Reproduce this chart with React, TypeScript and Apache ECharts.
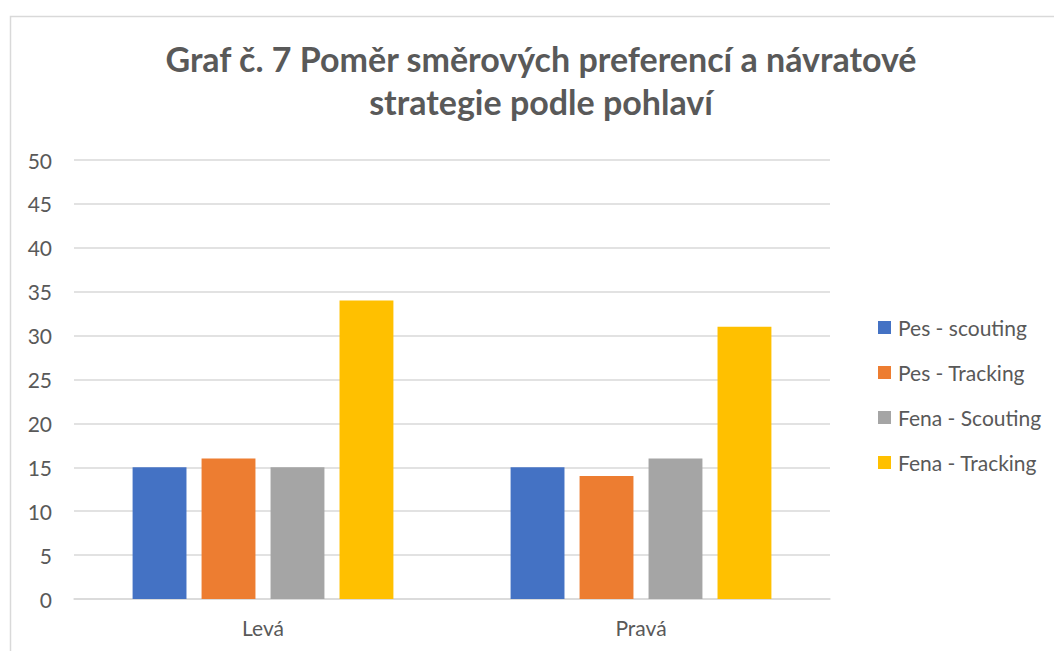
import React, { useEffect, useRef } from "react";
import * as echarts from "echarts";

const categories = ["Levá", "Pravá"];
const seriesNames = ["Pes - scouting", "Pes - Tracking", "Fena - Scouting", "Fena - Tracking"];
const pesScouting = [15, 15];
const pesTracking = [16, 14];
const fenaScouting = [15, 16];
const fenaTracking = [34, 31];
const colors = ["#4472C4", "#ED7D31", "#A5A5A5", "#FFC000"];
const titleText = "Graf č. 7 Poměr směrových preferencí a návratové\nstrategie podle pohlaví";

export default function App() {
  const ref = useRef<HTMLDivElement>(null);
  useEffect(() => {
    const chart = echarts.init(ref.current!, null, { renderer: "svg" });
    const values = [pesScouting, pesTracking, fenaScouting, fenaTracking];
    chart.setOption({
      animation: false,
      backgroundColor: "#ffffff",
      textStyle: { fontFamily: "Lato" },
      title: {
        text: titleText,
        left: 536,
        textAlign: "center",
        top: 32,
        textStyle: {
          fontFamily: "Lato",
          fontWeight: "bold",
          fontSize: 34,
          color: "#595959",
          lineHeight: 43,
        },
      },
      graphic: [
        {
          type: "rect",
          shape: { x: 10.5, y: 16.5, width: 1100, height: 700 },
          style: { fill: "none", stroke: "#d9d9d9", lineWidth: 1.5 },
          silent: true,
        },
      ],
      legend: {
        orient: "vertical",
        left: 873,
        top: 312,
        itemWidth: 13,
        itemHeight: 13,
        itemGap: 24,
        icon: "rect",
        textStyle: { fontFamily: "Lato", fontSize: 21, color: "#595959", padding: [0, 0, 0, 2] },
        data: seriesNames,
      },
      grid: { left: 74, right: 1054 - 830, top: 160, bottom: 651 - 599, containLabel: false },
      xAxis: {
        type: "category",
        data: categories,
        axisLine: { lineStyle: { color: "#d9d9d9", width: 1.5 } },
        axisTick: { show: false },
        axisLabel: { fontFamily: "Lato", fontSize: 21, color: "#595959", margin: 18 },
      },
      yAxis: {
        type: "value",
        min: 0,
        max: 50,
        interval: 5,
        axisLine: { show: false },
        axisTick: { show: false },
        splitLine: { lineStyle: { color: "#d9d9d9", width: 1.5 } },
        axisLabel: { fontFamily: "Lato", fontSize: 21, color: "#595959", margin: 22 },
      },
      series: seriesNames.map((name, i) => ({
        name,
        type: "bar",
        data: values[i],
        barGap: "28%",
        barCategoryGap: "31%",
        itemStyle: { color: colors[i] },
      })),
    });
    return () => chart.dispose();
  }, []);
  return (
    <div
      ref={ref}
      style={{ position: "fixed", left: 0, top: 0, width: 1054, height: 651 }}
    />
  );
}
